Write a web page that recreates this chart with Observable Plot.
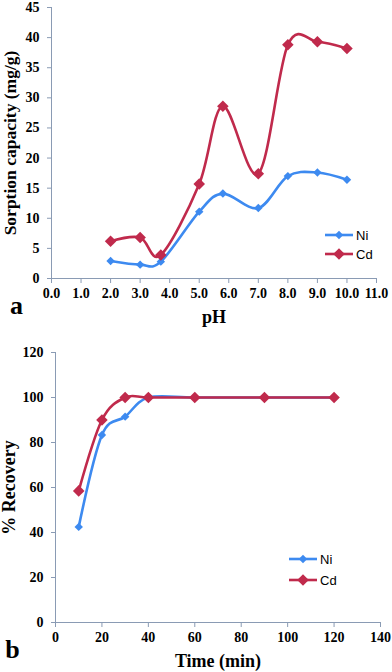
<!DOCTYPE html>
<html>
<head>
<meta charset="utf-8">
<script src="https://cdn.jsdelivr.net/npm/d3@7"></script>
<script src="https://cdn.jsdelivr.net/npm/@observablehq/plot@0.6"></script>
<style>
  html, body { margin: 0; padding: 0; background: #fff; }
  #wrap { position: relative; width: 392px; height: 672px; overflow: hidden; }
  .panel { position: absolute; left: 0; }
  .legend { position: absolute; }
</style>
</head>
<body>
<div id="wrap"></div>
<script>
// ---- Data ----
const series = ["Ni", "Cd"];
const colors = ["#3d8af0", "#c02a4c"];

// Panel a: sorption capacity vs pH
const pH = [2.0, 3.0, 3.7, 5.0, 5.8, 7.0, 8.0, 9.0, 10.0];
const niCapacity = [2.9, 2.3, 2.8, 11.1, 14.1, 11.7, 17.0, 17.6, 16.4];
const cdCapacity = [6.2, 6.8, 3.9, 15.7, 28.6, 17.4, 38.8, 39.3, 38.2];
const pHTicks = [0, 1, 2, 3, 4, 5, 6, 7, 8, 9, 10, 11];
const capacityTicks = [0, 5, 10, 15, 20, 25, 30, 35, 40, 45];

// Panel b: % recovery vs time
const timeMin = [10, 20, 30, 40, 60, 90, 120];
const niRecovery = [42.5, 83.3, 91.5, 100, 100, 100, 100];
const cdRecovery = [58.5, 90.0, 100, 100, 100, 100, 100];
const timeTicks = [0, 20, 40, 60, 80, 100, 120, 140];
const recoveryTicks = [0, 20, 40, 60, 80, 100, 120];

const axisColor = "#8a9bb4";
const serif = "'Liberation Serif', 'Times New Roman', serif";

function rows(xs, ys) { return xs.map((x, i) => ({x, y: ys[i]})); }

function panel({xDomain, yDomain, xTicks, yTicks, xFormat, data, height, margins, yLabel, xLabel, letter, pos}) {
  const [mt, mr, mb, ml] = margins;
  const marks = [
    Plot.ruleX([xDomain[0]], {stroke: axisColor, strokeWidth: 1}),
    Plot.ruleY([yDomain[0]], {stroke: axisColor, strokeWidth: 1}),
    Plot.axisY({ticks: yTicks, tickSize: 4, tickPadding: 8, fontSize: 14, fontWeight: "bold",
      stroke: axisColor, fill: "#000", label: null}),
    Plot.axisX({ticks: xTicks, tickSize: 5, tickPadding: 5, fontSize: 14, fontWeight: "bold",
      stroke: axisColor, fill: "#000", label: null, tickFormat: xFormat})
  ];
  data.forEach((d, i) => {
    marks.push(Plot.line(d, {x: "x", y: "y", stroke: colors[i], strokeWidth: 2.6, curve: "cardinal"}));
  });
  data.forEach((d, i) => {
    marks.push(Plot.dot(d, {x: "x", y: "y", symbol: "diamond2", r: i === 0 ? 3.8 : 5.2, fill: colors[i], stroke: "none"}));
  });
  marks.push(Plot.text([yLabel], {frameAnchor: "left", textAnchor: "middle", rotate: -90, dx: pos.yLabelDx, fontSize: pos.yLabelSize, fontWeight: "bold", fill: "#000"}));
  marks.push(Plot.text([xLabel], {frameAnchor: "bottom", textAnchor: "middle", lineAnchor: "bottom", dy: pos.xLabelDy, fontSize: pos.xLabelSize, fontWeight: "bold", fill: "#000"}));
  marks.push(Plot.text([letter], {frameAnchor: "bottom-left", lineAnchor: "bottom", textAnchor: "middle", dx: pos.letterDx, dy: pos.letterDy, fontSize: 26, fontWeight: "bold", fill: "#000"}));
  return Plot.plot({
    width: 392, height,
    marginTop: mt, marginRight: mr, marginBottom: mb, marginLeft: ml,
    style: {fontFamily: serif, background: "#fff", overflow: "visible"},
    x: {domain: xDomain},
    y: {domain: yDomain},
    marks
  });
}

function legend(left, top, rowGap) {
  const svg = d3.create("svg").attr("width", 70).attr("height", 40).attr("class", "legend")
    .style("left", left + "px").style("top", top + "px");
  series.forEach((s, i) => {
    const g = svg.append("g").attr("transform", `translate(0,${8 + i * rowGap})`);
    g.append("line").attr("x1", 0).attr("x2", 28).attr("y1", 0).attr("y2", 0)
      .attr("stroke", colors[i]).attr("stroke-width", 2.6);
    const r = i === 0 ? 4.2 : 5.8;
    g.append("path").attr("d", `M14,${-r}L${14 + r},0L14,${r}L${14 - r},0Z`).attr("fill", colors[i]);
    g.append("text").attr("x", 31).attr("y", 0).attr("dy", "0.35em")
      .attr("font-family", "'Liberation Sans', Arial, sans-serif").attr("font-size", 13).text(s);
  });
  return svg.node();
}

const wrap = document.getElementById("wrap");

const a = panel({
  xDomain: [0, 11], yDomain: [0, 45], xTicks: pHTicks, yTicks: capacityTicks, xFormat: d3.format(".1f"),
  data: [rows(pH, niCapacity), rows(pH, cdCapacity)],
  height: 330, margins: [7, 16, 52, 51],
  yLabel: "Sorption capacity (mg/g)", xLabel: "pH", letter: "a",
  pos: {yLabelDx: -41, yLabelSize: 17.5, xLabelDy: 44, xLabelSize: 18, letterDx: -35, letterDy: 35}
});
a.classList.add("panel"); a.style.top = "0px";
wrap.appendChild(a);

const b = panel({
  xDomain: [0, 140], yDomain: [0, 120], xTicks: timeTicks, yTicks: recoveryTicks, xFormat: d3.format("d"),
  data: [rows(timeMin, niRecovery), rows(timeMin, cdRecovery)],
  height: 342, margins: [22, 12, 50, 55],
  yLabel: "% Recovery", xLabel: "Time (min)", letter: "b",
  pos: {yLabelDx: -46, yLabelSize: 18, xLabelDy: 44, xLabelSize: 18, letterDx: -43, letterDy: 35}
});
b.classList.add("panel"); b.style.top = "330px";
wrap.appendChild(b);

wrap.appendChild(legend(325, 227, 19));
wrap.appendChild(legend(289, 551, 21));
</script>
</body>
</html>
